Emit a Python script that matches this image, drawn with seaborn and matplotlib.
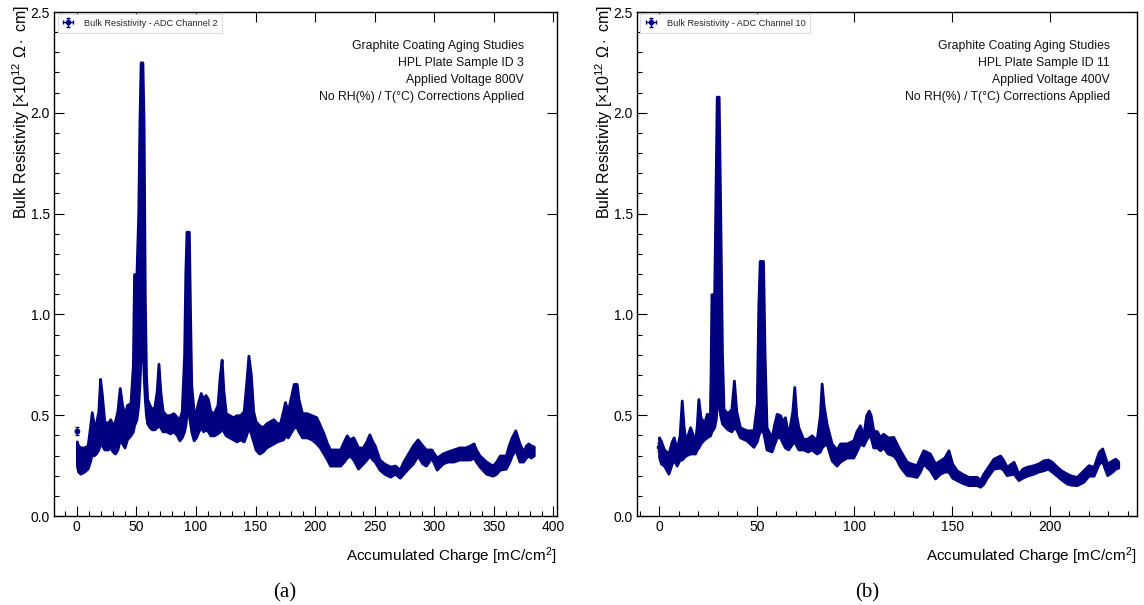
import numpy as np
import pandas as pd
import matplotlib
matplotlib.use("Agg")
import matplotlib.pyplot as plt
from matplotlib.ticker import MultipleLocator
import seaborn as sns

# ---------------- data ----------------
# Panel (a): ADC channel 2, HPL sample 3, 800 V
a_x = [0, 1, 3, 6, 9, 11, 12.5, 14, 16, 18, 19.5, 21, 23, 26, 28, 30, 32, 34, 36, 38,
       40, 42, 45, 47, 48, 50, 51.5, 52.5, 53.5, 55, 56, 57, 58, 59, 61, 63, 65, 67, 68.5, 70,
       72, 75, 78, 81, 84, 86, 88, 90, 91, 92, 94, 95, 96, 98, 100, 102, 104, 106, 108, 110,
       112, 115, 118, 120, 121.5, 123, 125, 128, 131, 134, 137, 140, 142, 144, 146, 148, 150,
       153, 156, 159, 162, 165, 168, 170.5, 173, 174.7, 177, 180, 182, 184.5, 186, 189, 193,
       197, 201, 204, 207, 210, 212.5, 217, 221, 224, 226.5, 229, 232, 236, 240, 243, 245.5,
       248, 250, 254, 258, 263, 267, 271, 274, 277, 282, 286, 290, 293, 297.5, 302, 307, 311,
       316, 321, 326, 330, 333, 335, 338, 343.5, 349, 352, 355, 360, 363, 365, 368, 371.5,
       374.5, 377, 379, 381, 383.5]
a_lo = [0.25, 0.22, 0.21, 0.22, 0.235, 0.27, 0.31, 0.30, 0.31, 0.33, 0.36, 0.35, 0.33, 0.33,
        0.34, 0.32, 0.31, 0.33, 0.38, 0.36, 0.34, 0.38, 0.40, 0.42, 0.45, 0.48, 0.55, 0.65,
        0.80, 0.90, 0.70, 0.58, 0.50, 0.46, 0.44, 0.43, 0.43, 0.44, 0.45, 0.44, 0.42, 0.42,
        0.41, 0.42, 0.40, 0.375, 0.39, 0.42, 0.45, 0.50, 0.50, 0.46, 0.42, 0.375, 0.39, 0.42,
        0.44, 0.42, 0.43, 0.42, 0.40, 0.40, 0.41, 0.42, 0.44, 0.42, 0.40, 0.39, 0.38, 0.37,
        0.38, 0.37, 0.40, 0.44, 0.41, 0.37, 0.33, 0.31, 0.32, 0.34, 0.35, 0.36, 0.37, 0.375,
        0.38, 0.40, 0.39, 0.42, 0.44, 0.44, 0.42, 0.39, 0.39, 0.38, 0.36, 0.34, 0.31, 0.28,
        0.25, 0.25, 0.25, 0.27, 0.29, 0.30, 0.28, 0.235, 0.26, 0.28, 0.30, 0.28, 0.27, 0.23,
        0.21, 0.195, 0.21, 0.19, 0.21, 0.23, 0.26, 0.30, 0.26, 0.25, 0.29, 0.23, 0.26, 0.27,
        0.27, 0.28, 0.28, 0.28, 0.29, 0.27, 0.245, 0.21, 0.20, 0.21, 0.23, 0.235, 0.27, 0.30,
        0.33, 0.27, 0.27, 0.29, 0.30, 0.29, 0.30]
a_hi = [0.37, 0.35, 0.34, 0.34, 0.35, 0.44, 0.515, 0.46, 0.46, 0.52, 0.68, 0.60, 0.47, 0.46,
        0.48, 0.45, 0.47, 0.52, 0.635, 0.55, 0.50, 0.55, 0.56, 0.75, 1.20, 1.20, 1.50, 1.95,
        2.25, 2.25, 1.95, 1.10, 0.70, 0.58, 0.55, 0.53, 0.54, 0.62, 0.755, 0.62, 0.52, 0.50,
        0.50, 0.51, 0.49, 0.48, 0.52, 0.80, 1.20, 1.41, 1.41, 1.00, 0.65, 0.52, 0.52, 0.57,
        0.61, 0.58, 0.60, 0.58, 0.52, 0.51, 0.55, 0.70, 0.775, 0.62, 0.51, 0.50, 0.49, 0.50,
        0.50, 0.52, 0.65, 0.795, 0.70, 0.52, 0.47, 0.45, 0.44, 0.46, 0.47, 0.48, 0.46, 0.46,
        0.52, 0.565, 0.52, 0.60, 0.655, 0.655, 0.58, 0.51, 0.51, 0.50, 0.49, 0.45, 0.41, 0.36,
        0.33, 0.33, 0.33, 0.37, 0.40, 0.38, 0.39, 0.34, 0.34, 0.37, 0.405, 0.37, 0.35, 0.28,
        0.26, 0.245, 0.25, 0.23, 0.27, 0.30, 0.35, 0.38, 0.35, 0.33, 0.33, 0.29, 0.31, 0.32,
        0.33, 0.34, 0.34, 0.35, 0.36, 0.33, 0.30, 0.27, 0.25, 0.27, 0.30, 0.30, 0.36, 0.39,
        0.425, 0.36, 0.32, 0.35, 0.36, 0.35, 0.345]
a_iso_x = [0]
a_iso_y = [0.42]
a_iso_err = [0.02]

# Panel (b): ADC channel 10, HPL sample 11, 400 V
b_x = [0, 1, 2.5, 4.8, 6.5, 7.5, 9, 10.5, 11.6, 12.5, 13.5, 15.9, 18.4, 19.3, 20.1, 21.2,
       23, 24.4, 26.1, 26.8, 28.2, 29, 29.5, 30.5, 31.3, 32.2, 33, 35, 37, 38.3, 39.5, 41.4,
       44.8, 48.3, 50, 50.8, 51.5, 53.2, 54, 55, 57.6, 59, 60.2, 61.9, 63.3, 64.4, 66.1, 68.2,
       69.2, 70.2, 71.3, 73.8, 76, 78.1, 80.6, 82.3, 83.2, 84.2, 85.7, 88.3, 90.8, 92.6, 96,
       99.4, 101, 102.8, 104.5, 106, 107.3, 108.3, 109.6, 111.5, 113, 114.7, 117, 119.9,
       121.5, 123.3, 126.7, 129, 131.8, 133.5, 135.2, 138.6, 141.2, 143.8, 146, 148.1, 150,
       152.3, 155, 158.3, 162.6, 164.3, 166, 167.7, 171.1, 174.5, 176, 177.9, 181.4, 183.9,
       186, 188.2, 191.6, 194, 196.7, 199, 201, 203.6, 206, 208.7, 211, 213.8, 217.2, 219.8,
       222.4, 225, 226.8, 229.3, 231.9, 233.5, 235]
b_lo = [0.29, 0.26, 0.25, 0.21, 0.26, 0.28, 0.25, 0.28, 0.28, 0.29, 0.30, 0.31, 0.31, 0.33,
        0.34, 0.36, 0.38, 0.39, 0.40, 0.42, 0.44, 0.48, 0.55, 0.55, 0.50, 0.46, 0.45, 0.43,
        0.42, 0.44, 0.43, 0.39, 0.375, 0.343, 0.37, 0.40, 0.42, 0.42, 0.38, 0.33, 0.32, 0.36,
        0.39, 0.39, 0.36, 0.34, 0.33, 0.36, 0.37, 0.35, 0.33, 0.33, 0.32, 0.33, 0.31, 0.32,
        0.34, 0.35, 0.36, 0.276, 0.25, 0.27, 0.29, 0.29, 0.32, 0.36, 0.35, 0.38, 0.40, 0.39,
        0.34, 0.34, 0.326, 0.34, 0.31, 0.30, 0.28, 0.245, 0.203, 0.20, 0.194, 0.22, 0.26,
        0.227, 0.186, 0.21, 0.22, 0.22, 0.19, 0.178, 0.165, 0.153, 0.153, 0.145, 0.16, 0.19,
        0.235, 0.24, 0.23, 0.203, 0.21, 0.178, 0.19, 0.20, 0.21, 0.22, 0.227, 0.235, 0.22,
        0.20, 0.18, 0.161, 0.155, 0.153, 0.17, 0.20, 0.20, 0.26, 0.27, 0.203, 0.22, 0.235,
        0.24]
b_hi = [0.39, 0.37, 0.33, 0.31, 0.37, 0.39, 0.33, 0.40, 0.573, 0.45, 0.37, 0.44, 0.37, 0.45,
        0.58, 0.49, 0.46, 0.507, 0.50, 1.10, 1.10, 1.70, 2.08, 2.08, 1.50, 0.80, 0.53, 0.51,
        0.53, 0.672, 0.52, 0.44, 0.425, 0.425, 0.557, 1.05, 1.265, 1.265, 0.80, 0.44, 0.39,
        0.46, 0.507, 0.50, 0.47, 0.49, 0.40, 0.52, 0.64, 0.50, 0.44, 0.38, 0.385, 0.40, 0.375,
        0.50, 0.657, 0.55, 0.458, 0.36, 0.33, 0.36, 0.36, 0.375, 0.42, 0.45, 0.40, 0.50, 0.523,
        0.50, 0.425, 0.42, 0.392, 0.408, 0.39, 0.392, 0.36, 0.326, 0.27, 0.26, 0.252, 0.29,
        0.326, 0.31, 0.26, 0.276, 0.29, 0.326, 0.26, 0.227, 0.21, 0.194, 0.194, 0.178, 0.21,
        0.235, 0.284, 0.30, 0.28, 0.244, 0.269, 0.21, 0.235, 0.244, 0.252, 0.26, 0.276, 0.28,
        0.269, 0.244, 0.225, 0.21, 0.20, 0.194, 0.227, 0.252, 0.244, 0.318, 0.335, 0.26,
        0.276, 0.284, 0.27]

panels = [
    dict(x=a_x, lo=a_lo, hi=a_hi, xlim=(-19.2, 403), xmajor=50,
         legend="Bulk Resistivity - ADC Channel 2",
         notes=["Graphite Coating Aging Studies", "HPL Plate Sample ID 3",
                "Applied Voltage 800V", "No RH(%) / T(°C) Corrections Applied"],
         caption="(a)", note_x=0.934, iso=True),
    dict(x=b_x, lo=b_lo, hi=b_hi, xlim=(-11.3, 244.6), xmajor=50,
         legend="Bulk Resistivity - ADC Channel 10",
         notes=["Graphite Coating Aging Studies", "HPL Plate Sample ID 11",
                "Applied Voltage 400V", "No RH(%) / T(°C) Corrections Applied"],
         caption="(b)", note_x=0.946, iso=False),
]

NAVY = "#000080"

sns.set_theme(style="ticks")
plt.rcParams["font.family"] = ["Liberation Sans", "DejaVu Sans"]
plt.rcParams["mathtext.fontset"] = "custom"
plt.rcParams["mathtext.rm"] = "Liberation Sans"
plt.rcParams["mathtext.it"] = "Liberation Sans:italic"
plt.rcParams["mathtext.bf"] = "Liberation Sans:bold"

fig = plt.figure(figsize=(11.44, 6.05), dpi=100)
fig.patch.set_facecolor("white")

axes_rects = [
    [54 / 1144, 1 - 516 / 605, 503 / 1144, 504 / 605],
    [637 / 1144, 1 - 516 / 605, 500 / 1144, 504 / 605],
]
caption_x = [285 / 1144, 867 / 1144]

for i, (p, rect) in enumerate(zip(panels, axes_rects)):
    ax = fig.add_axes(rect)
    ax.set_facecolor("white")
    x = np.array(p["x"], dtype=float)
    lo = np.array(p["lo"], dtype=float)
    hi = np.array(p["hi"], dtype=float)
    mid = (lo + hi) / 2
    df = pd.DataFrame({"x": x, "mid": mid})

    ax.fill_between(x, lo, hi, color=NAVY, lw=2.0, zorder=2)
    sns.lineplot(data=df, x="x", y="mid", color=NAVY, lw=1.5, ax=ax,
                 estimator=None, sort=False, zorder=3)

    # legend handle: one data point drawn as an error-bar marker
    if p["iso"]:
        h = ax.errorbar(a_iso_x, a_iso_y, yerr=a_iso_err, xerr=[1.2], fmt="o", ms=3,
                        color=NAVY, ecolor=NAVY, elinewidth=1, capsize=1.5, zorder=4,
                        label=p["legend"])
    else:
        h = ax.errorbar([x[0]], [mid[0]], yerr=[0.02], xerr=[0.8], fmt="o", ms=3,
                        color=NAVY, ecolor=NAVY, elinewidth=1, capsize=1.5, zorder=1,
                        label=p["legend"])

    leg = ax.legend(handles=[h], labels=[p["legend"]], loc="upper left",
                    bbox_to_anchor=(0.007, 0.997), borderaxespad=0, fontsize=6.6,
                    frameon=True, fancybox=False, framealpha=1, handlelength=1.2,
                    handletextpad=1.1, borderpad=0.55)
    leg.get_frame().set_edgecolor("#dddddd")
    leg.get_frame().set_linewidth(0.8)

    ax.set_xlim(*p["xlim"])
    ax.set_ylim(0, 2.5)
    ax.xaxis.set_major_locator(MultipleLocator(p["xmajor"]))
    ax.xaxis.set_minor_locator(MultipleLocator(10))
    ax.yaxis.set_major_locator(MultipleLocator(0.5))
    ax.yaxis.set_minor_locator(MultipleLocator(0.1))
    ax.yaxis.set_major_formatter(matplotlib.ticker.FormatStrFormatter("%.1f"))

    ax.tick_params(which="both", direction="in", top=True, right=True,
                   colors="black", labelsize=10, width=0.8)
    ax.tick_params(which="major", length=7, pad=3)
    ax.tick_params(which="minor", length=3.5, top=False, right=False)
    for s in ax.spines.values():
        s.set_color("black")
        s.set_linewidth(1.0)

    ax.set_xlabel(r"Accumulated Charge [mC/cm$^{2}$]", fontsize=11, loc="right",
                  color="black")
    ax.xaxis.set_label_coords(1.0, -0.058)
    ax.set_ylabel(r"Bulk Resistivity [$\times$10$^{12}$ $\Omega\cdot$ cm]", fontsize=11.5,
                  loc="top", color="black")
    ax.yaxis.set_label_coords(-0.044, 1.014)
    ax.grid(False)

    ys = [0.9325, 0.899, 0.865, 0.831]
    for t, yy in zip(p["notes"], ys):
        ax.text(p["note_x"], yy, t, transform=ax.transAxes, ha="right", va="center",
                fontsize=8.8, color="#111111")

    fig.text(caption_x[i], 1 - 593 / 605, p["caption"], ha="center", va="center",
             fontsize=15, family=["Liberation Serif", "DejaVu Serif"], color="black")

fig.savefig("out.png", dpi=100, facecolor="white")
